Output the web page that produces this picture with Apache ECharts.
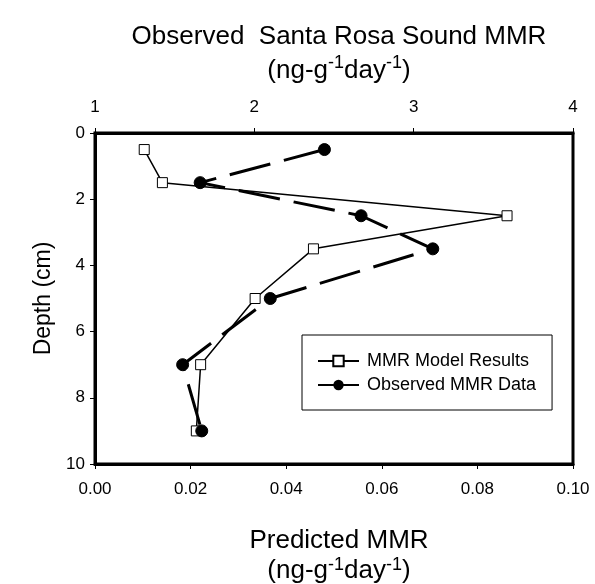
<!DOCTYPE html>
<html>
<head>
<meta charset="utf-8">
<script src="https://cdn.jsdelivr.net/npm/echarts@6/dist/echarts.min.js"></script>
<style>
html, body { margin: 0; padding: 0; background: #fff; }
#chart { width: 595px; height: 584px; }
</style>
</head>
<body>
<div id="chart"></div>
<script>
// depth of each sample (cm)
var depths = [0.5, 1.5, 2.5, 3.5, 5, 7, 9];
// predicted MMR, bottom axis
var modelMMR = [0.0103, 0.0141, 0.0862, 0.0457, 0.0335, 0.0221, 0.0212];
// observed MMR, top axis
var observedMMR = [2.44, 1.66, 2.67, 3.12, 2.10, 1.55, 1.67];

var bottomTicks = { min: 0, max: 0.1, interval: 0.02 };
var topTicks = { min: 1, max: 4, interval: 1 };
var depthTicks = { min: 0, max: 10, interval: 2 };

var font = 'Liberation Sans, Arial, Helvetica, sans-serif';

function pairs(xs) {
    var out = [];
    for (var i = 0; i < xs.length; i++) {
        out.push([xs[i], depths[i]]);
    }
    return out;
}

function unitRich(lh, slh) {
    return {
        a: { fontSize: 26, fontWeight: 'normal', lineHeight: lh, color: '#000', fontFamily: font },
        s: { fontSize: 18, fontWeight: 'normal', lineHeight: slh, verticalAlign: 'top', color: '#000', fontFamily: font }
    };
}

var myChart = echarts.init(document.getElementById('chart'));

var option = {
    backgroundColor: '#fff',
    animation: false,
    title: [
        {
            left: 334,
            top: 15,
            textAlign: 'center',
            text: '{a|Observed  Santa Rosa Sound MMR}\n{a|(ng-g}{s|-1}{a|day}{s|-1}{a|)}',
            textStyle: { fontWeight: 'normal', rich: unitRich(34, 22) }
        },
        {
            left: 334,
            top: 521,
            textAlign: 'center',
            text: '{a|Predicted MMR}\n{a|(ng-g}{s|-1}{a|day}{s|-1}{a|)}',
            textStyle: { fontWeight: 'normal', rich: unitRich(30, 20) }
        }
    ],
    grid: {
        left: 95,
        right: 22,
        top: 133,
        bottom: 120,
        show: true,
        borderColor: '#000',
        borderWidth: 3,
        containLabel: false
    },
    legend: {
        orient: 'vertical',
        left: 302,
        top: 335,
        padding: [17, 16, 16, 15],
        itemGap: 6,
        itemWidth: 41,
        itemHeight: 13,
        borderColor: '#000',
        borderWidth: 1,
        textStyle: { fontSize: 18, color: '#000', fontFamily: font, padding: [0, 0, 0, 3] },
        data: [
            { name: 'MMR Model Results' },
            { name: 'Observed MMR Data', lineStyle: { type: 'solid' } }
        ]
    },
    xAxis: [
        {
            type: 'value',
            position: 'bottom',
            min: bottomTicks.min,
            max: bottomTicks.max,
            interval: bottomTicks.interval,
            axisLine: { onZero: false, lineStyle: { color: '#000', width: 3 } },
            axisTick: { inside: false, length: 5, lineStyle: { color: '#000', width: 1 } },
            axisLabel: {
                margin: 17,
                fontSize: 17,
                color: '#000',
                fontFamily: font,
                formatter: function (v) { return v.toFixed(2); }
            },
            splitLine: { show: false }
        },
        {
            type: 'value',
            position: 'top',
            min: topTicks.min,
            max: topTicks.max,
            interval: topTicks.interval,
            axisLine: { onZero: false, lineStyle: { color: '#000', width: 3 } },
            axisTick: { inside: false, length: 5, lineStyle: { color: '#000', width: 1 } },
            axisLabel: { margin: 17, fontSize: 17, color: '#000', fontFamily: font },
            splitLine: { show: false }
        }
    ],
    yAxis: {
        type: 'value',
        inverse: true,
        min: depthTicks.min,
        max: depthTicks.max,
        interval: depthTicks.interval,
        name: 'Depth (cm)',
        nameLocation: 'middle',
        nameGap: 37,
        nameTextStyle: { fontSize: 23, color: '#000', fontFamily: font },
        axisLine: { onZero: false, lineStyle: { color: '#000', width: 3 } },
        axisTick: { inside: false, length: 5, lineStyle: { color: '#000', width: 1 } },
        axisLabel: { margin: 10, fontSize: 17, color: '#000', fontFamily: font },
        splitLine: { show: false }
    },
    series: [
        {
            name: 'MMR Model Results',
            type: 'line',
            xAxisIndex: 0,
            data: pairs(modelMMR),
            symbol: 'rect',
            symbolSize: 10,
            lineStyle: { color: '#000', width: 1.5 },
            itemStyle: { color: '#fff', borderColor: '#000', borderWidth: 1 },
            z: 2
        },
        {
            name: 'Observed MMR Data',
            type: 'line',
            xAxisIndex: 1,
            data: pairs(observedMMR),
            symbol: 'circle',
            symbolSize: 12,
            lineStyle: { color: '#000', width: 3, type: [42, 14] },
            itemStyle: { color: '#000', borderColor: '#000' },
            z: 3
        }
    ]
};

myChart.setOption(option);
</script>
</body>
</html>
